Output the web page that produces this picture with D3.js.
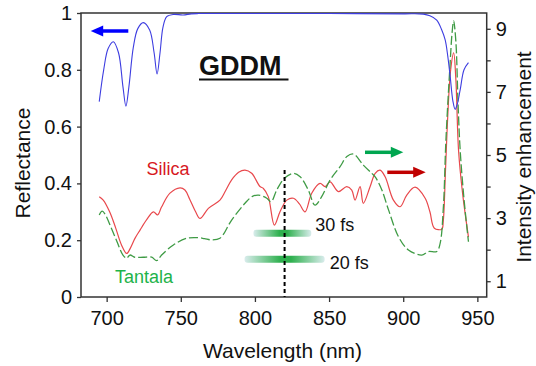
<!DOCTYPE html>
<html>
<head>
<meta charset="utf-8">
<script src="https://cdn.jsdelivr.net/npm/d3@7"></script>
<style>
  body { margin: 0; background: #fff; }
  text { font-family: "Liberation Sans", Arial, Helvetica, sans-serif; }
</style>
</head>
<body>
<svg width="536" height="366"></svg>
<script>
// reflectance (left axis)
var blueWl = [695, 698, 701, 704.5, 708, 711, 713, 715, 718, 721, 724.7, 729, 732, 734, 736, 738, 740.5, 745, 751.5, 757, 762, 800, 850, 900, 913.6, 918, 922.6, 926, 928.3, 930, 931.7, 933.5, 935, 936.5, 938.4, 941, 944];
var blueR  = [0.688, 0.80, 0.875, 0.899, 0.86, 0.74, 0.672, 0.74, 0.88, 0.945, 0.966, 0.94, 0.86, 0.785, 0.86, 0.95, 0.987, 0.995, 0.993, 0.997, 0.998, 0.998, 0.998, 0.997, 0.996, 0.99, 0.975, 0.94, 0.905, 0.85, 0.775, 0.69, 0.661, 0.68, 0.729, 0.80, 0.825];

// intensity enhancement (right axis)
var silicaWl  = [695, 697.7, 702, 706, 710, 713.5, 716, 719, 722.5, 727, 731.5, 734.4, 737, 742.7, 749.5, 752.8, 756, 760, 763, 768.6, 776.4, 780, 784.3, 789, 793.3, 797.8, 803.4, 805.7, 809, 813.1, 816.9, 821.5, 826, 830, 833.8, 838.3, 843.9, 847.3, 850.7, 856.3, 861.9, 865.3, 867.5, 870.9, 873.1, 877.7, 881.1, 884.4, 887.8, 893.4, 897.9, 902.4, 908, 914.8, 918, 921, 926, 927, 928.5, 930, 932, 934, 935.5, 937.3, 940, 944];
var silicaEnh = [3.68, 3.57, 3.2, 2.7, 2.15, 1.88, 2.05, 2.35, 2.62, 2.95, 3.20, 3.10, 3.35, 3.79, 3.96, 3.89, 3.6, 3.2, 2.99, 3.31, 3.57, 3.85, 4.21, 4.45, 4.52, 4.42, 4.0, 3.94, 3.68, 2.78, 3.2, 3.57, 3.63, 3.45, 3.20, 3.79, 4.10, 4.0, 4.15, 3.84, 4.0, 3.89, 3.57, 4.0, 3.47, 4.0, 4.42, 4.52, 4.31, 3.57, 3.36, 3.73, 3.98, 3.63, 3.2, 2.68, 2.65, 2.9, 4.5, 6.2, 7.7, 8.24, 7.4, 5.16, 3.8, 2.4];

var tantalaWl  = [695, 697, 699, 703, 707, 711, 713.5, 715.7, 719, 724.7, 730.4, 733.7, 737.1, 745, 754, 761.8, 766, 770.8, 776.4, 784.3, 793.3, 798, 802.3, 808, 810.9, 814.7, 819.8, 826, 830.5, 836, 840.5, 845, 850.7, 857.4, 862, 866.4, 873.1, 878.8, 881.1, 885.6, 890.1, 896.8, 903.5, 912.5, 917, 922.6, 924.9, 927.1, 928.8, 931.5, 933, 934, 935.5, 937, 938.4, 941, 944];
var tantalaEnh = [3.10, 3.22, 3.12, 2.7, 2.25, 1.83, 1.73, 1.83, 1.76, 1.76, 1.76, 1.65, 1.83, 2.15, 2.36, 2.38, 2.35, 2.31, 2.36, 2.94, 3.47, 3.68, 3.73, 3.63, 3.52, 3.89, 4.26, 4.42, 4.31, 3.89, 3.41, 3.68, 4.21, 4.63, 4.95, 5.03, 4.68, 4.42, 4.31, 3.89, 3.26, 2.41, 1.99, 1.83, 1.94, 1.94, 2.20, 3.36, 5.47, 7.8, 8.9, 9.25, 8.6, 6.6, 5.16, 3.6, 2.25];

var xTicks = [700, 750, 800, 850, 900, 950];
var leftTicks = [0, 0.2, 0.4, 0.6, 0.8, 1];
var rightTicks = [1, 2, 3, 4, 5, 6, 7, 8, 9];
var rightLabels = [1, 3, 5, 7, 9];

// pulse bandwidth bars (wavelength range, height on right axis)
var pulseNames = ["30 fs", "20 fs"];
var pulseLo = [799, 793];
var pulseHi = [838, 847];
var pulseLevel = [2.52, 1.70];
var markWl = 820;

var svg = d3.select("svg"),
    padLeft = 81, padTop = 13,
    width = 405.7,
    height = 284;

var x = d3.scaleLinear().domain([682.7, 956.3]).range([0, width]),
    yL = d3.scaleLinear().domain([0, 1]).range([height, 0]),
    yR = d3.scaleLinear().domain([0.5, 9.5]).range([height, 0]);

var defs = svg.append("defs");
var grad = defs.append("linearGradient").attr("id", "pulse");
grad.append("stop").attr("offset", "0%").attr("stop-color", "#d9ecec");
grad.append("stop").attr("offset", "45%").attr("stop-color", "#2eb04e");
grad.append("stop").attr("offset", "58%").attr("stop-color", "#2eb04e");
grad.append("stop").attr("offset", "100%").attr("stop-color", "#d9ecec");

var g = svg.append("g")
           .attr("transform", "translate(" + padLeft + "," + padTop + ")");

var axisColor = "#333";

// axes
var gx = g.append("g")
  .attr("transform", "translate(0," + height + ")")
  .call(d3.axisBottom(x).tickValues(xTicks).tickSize(5).tickPadding(9));
var gl = g.append("g")
  .call(d3.axisLeft(yL).tickValues(leftTicks).tickSize(4).tickPadding(5)
    .tickFormat(function(d) { return d; }));
var gr = g.append("g")
  .attr("transform", "translate(" + width + ",0)")
  .call(d3.axisRight(yR).tickValues(rightTicks).tickSize(4).tickPadding(5)
    .tickFormat(function(d) { return rightLabels.indexOf(d) >= 0 ? d : ""; }));

[gx, gl, gr].forEach(function(a) {
  a.selectAll("path").remove();
  a.selectAll("line").attr("stroke", axisColor).attr("stroke-width", 1.3);
  a.selectAll("text").attr("font-size", "20px").attr("fill", "#111")
   .attr("font-family", "Liberation Sans, Arial, sans-serif");
});

g.append("rect")
 .attr("width", width).attr("height", height)
 .attr("fill", "none").attr("stroke", axisColor).attr("stroke-width", 1.5);

// pulse bars
pulseNames.forEach(function(n, i) {
  g.append("rect")
   .attr("x", x(pulseLo[i]))
   .attr("y", yR(pulseLevel[i]) - 3.5)
   .attr("width", x(pulseHi[i]) - x(pulseLo[i]))
   .attr("height", 7)
   .attr("rx", 3)
   .attr("fill", "url(#pulse)");
});
g.append("text").attr("x", x(838) + 4).attr("y", 231 - padTop).attr("font-size", "18px").attr("fill", "#111").text(pulseNames[0]);
g.append("text").attr("x", x(847) + 5).attr("y", 269 - padTop).attr("font-size", "18px").attr("fill", "#111").text(pulseNames[1]);

// curves
var lineL = d3.line().curve(d3.curveCatmullRom.alpha(0.5))
  .x(function(d) { return x(d[0]); })
  .y(function(d) { return yL(d[1]); });
var lineR = d3.line().curve(d3.curveCatmullRom.alpha(0.5))
  .x(function(d) { return x(d[0]); })
  .y(function(d) { return yR(d[1]); });

g.append("path")
 .datum(d3.zip(silicaWl, silicaEnh))
 .attr("d", lineR)
 .attr("fill", "none").attr("stroke", "#e8484c").attr("stroke-width", 1.2);

g.append("path")
 .datum(d3.zip(tantalaWl, tantalaEnh))
 .attr("d", lineR)
 .attr("fill", "none").attr("stroke", "#3f9b45").attr("stroke-width", 1.3)
 .attr("stroke-dasharray", "9,3");

g.append("path")
 .datum(d3.zip(blueWl, blueR))
 .attr("d", lineL)
 .attr("fill", "none").attr("stroke", "#3d3de0").attr("stroke-width", 1.1);

// vertical marker at 820 nm
g.append("line")
 .attr("x1", x(markWl)).attr("x2", x(markWl))
 .attr("y1", 170 - padTop).attr("y2", height)
 .attr("stroke", "#000").attr("stroke-width", 2)
 .attr("stroke-dasharray", "4,3");

// arrows
function arrow(x1, x2, y, color) {
  var dir = x2 > x1 ? 1 : -1;
  g.append("line")
   .attr("x1", x1).attr("x2", x2 - dir * 10).attr("y1", y).attr("y2", y)
   .attr("stroke", color).attr("stroke-width", 3.5);
  g.append("path")
   .attr("d", "M" + x2 + "," + y + "L" + (x2 - dir * 12.5) + "," + (y - 5.5) + "L" + (x2 - dir * 12.5) + "," + (y + 5.5) + "Z")
   .attr("fill", color);
}
arrow(128.3 - padLeft, 90.7 - padLeft, 31 - padTop, "#0000ff");
arrow(365 - padLeft, 403.3 - padLeft, 152.3 - padTop, "#00a650");
arrow(387.3 - padLeft, 425.7 - padLeft, 172.3 - padTop, "#c00000");

// labels
g.append("text").attr("x", 146.5 - padLeft).attr("y", 175 - padTop)
 .attr("font-size", "18px").attr("fill", "#d7191f").text("Silica");
g.append("text").attr("x", 115 - padLeft).attr("y", 283 - padTop)
 .attr("font-size", "18px").attr("fill", "#1db34a").text("Tantala");

svg.append("text")
   .attr("x", 199).attr("y", 75)
   .attr("font-size", "27px").attr("font-weight", "bold").attr("fill", "#111")
   .text("GDDM");
svg.append("line")
   .attr("x1", 199).attr("x2", 288.5).attr("y1", 79.5).attr("y2", 79.5)
   .attr("stroke", "#111").attr("stroke-width", 2);

svg.append("text")
   .attr("transform", "translate(30,163) rotate(-90)")
   .attr("text-anchor", "middle")
   .attr("font-size", "21px").attr("fill", "#111")
   .text("Reflectance");
svg.append("text")
   .attr("transform", "translate(531,157) rotate(-90)")
   .attr("text-anchor", "middle")
   .attr("font-size", "21px").attr("fill", "#111")
   .text("Intensity enhancement");
svg.append("text")
   .attr("x", 282.5).attr("y", 358)
   .attr("text-anchor", "middle")
   .attr("font-size", "21px").attr("fill", "#111")
   .text("Wavelength (nm)");
</script>
</body>
</html>
